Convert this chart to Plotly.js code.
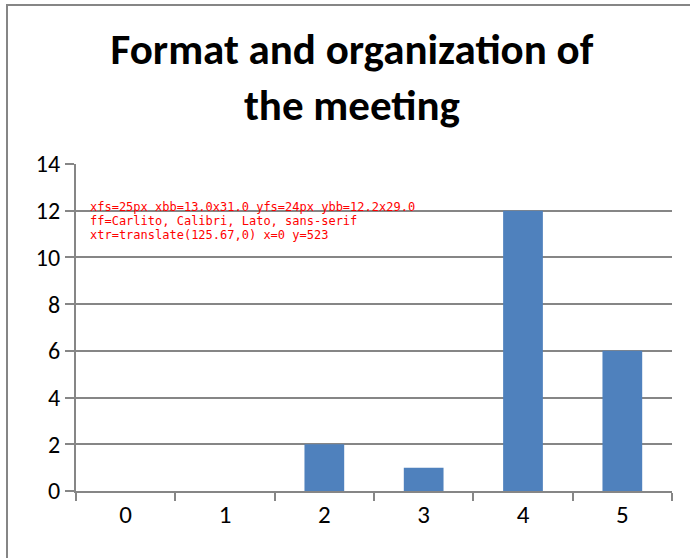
<!DOCTYPE html>
<html>
<head>
<meta charset="utf-8">
<script src="https://cdn.plot.ly/plotly-3.0.1.min.js"></script>
<style>
  html, body { margin: 0; padding: 0; background: #fff; }
  #wrap { position: relative; width: 690px; height: 558px; overflow: hidden; }
  #chart { position: absolute; left: 0; top: 0; width: 690px; height: 558px; }
  #frame { position: absolute; left: 6px; top: 4px; width: 700px; height: 600px;
           border: 2px solid #868686; box-sizing: border-box; pointer-events: none; }
  #dbg { position: absolute; left: 90px; top: 200px; width: 400px; font: 12px monospace; color: red; }
</style>
</head>
<body>
<div id="wrap">
  <div id="chart"></div>
  <div id="frame"></div>
  <div id="dbg"></div>
</div>
<script>
const categories = ["0", "1", "2", "3", "4", "5"];
const counts = [0, 0, 2, 1, 12, 6];
const yTicks = [0, 2, 4, 6, 8, 10, 12, 14];
const chartTitle = "Format and organization of<br>the meeting";

const font = "Carlito, Calibri, Lato, sans-serif";

Plotly.newPlot("chart", [{
  type: "bar",
  x: categories,
  y: counts,
  marker: { color: "#4F81BD", line: { width: 0 } },
  hoverinfo: "x+y"
}], {
  width: 690, height: 558,
  paper_bgcolor: "rgba(0,0,0,0)",
  plot_bgcolor: "#ffffff",
  margin: { l: 76, r: 18, t: 164, b: 67 },
  bargap: 0.6,
  showlegend: false,
  font: { family: font, size: 24, color: "#000000" },
  title: {
    text: "<b>" + chartTitle + "</b>",
    font: { family: font, size: 43, color: "#000000" },
    x: 0.51, xanchor: "center",
    y: 0.886, yanchor: "middle"
  },
  xaxis: {
    type: "category",
    tickson: "boundaries",
    ticks: "outside", ticklen: 8, tickwidth: 2, tickcolor: "#868686",
    showline: true, linecolor: "#868686", linewidth: 2,
    showgrid: false, zeroline: false,
    tickfont: { family: font, size: 25, color: "#000000" }
  },
  yaxis: {
    range: [0, 14],
    tickvals: yTicks,
    ticktext: yTicks.map(String),
    ticks: "outside", ticklen: 9, tickwidth: 2, tickcolor: "#868686",
    showline: true, linecolor: "#868686", linewidth: 2,
    showgrid: true, gridcolor: "#868686", gridwidth: 2,
    zeroline: false,
    tickfont: { family: font, size: 24, color: "#000000" }
  }
}, { displayModeBar: false, staticPlot: true }).then(function (gd) {
  const t = document.querySelector('.xtick text');
  const y = document.querySelector('.ytick text');
  const tb = t.getBBox(), yb = y.getBBox();
  document.getElementById('dbg').innerText =
    'xfs=' + t.style.fontSize + ' xbb=' + tb.width.toFixed(1) + 'x' + tb.height.toFixed(1) +
    ' yfs=' + y.style.fontSize + ' ybb=' + yb.width.toFixed(1) + 'x' + yb.height.toFixed(1) +
    ' ff=' + getComputedStyle(t).fontFamily + ' xtr=' + t.getAttribute('transform') + ' x=' + t.getAttribute('x') + ' y=' + t.getAttribute('y');
});
</script>
</body>
</html>
